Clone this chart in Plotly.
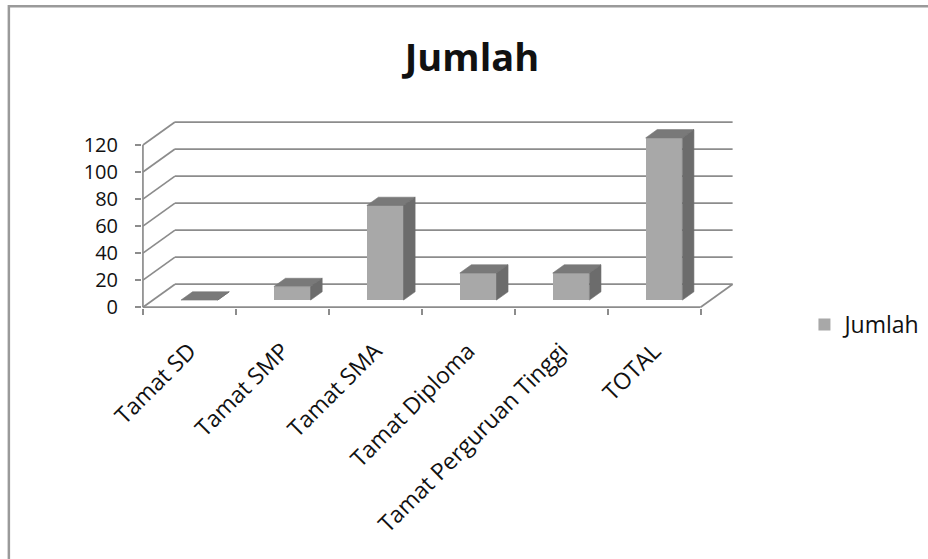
import plotly.graph_objects as go

# Data
categories = ["Tamat SD", "Tamat SMP", "Tamat SMA", "Tamat Diploma",
              "Tamat Perguruan Tinggi", "TOTAL"]
values = [0, 10, 70, 20, 20, 120]
y_ticks = [0, 20, 40, 60, 80, 100, 120]
series_name = "Jumlah"

# Pseudo-3D geometry (in axis units)
DEPTH_X = 0.345   # full floor depth along x (category units)
DEPTH_Y = 17.0    # full floor depth along y (value units)
F_FRONT = 0.31    # depth fraction of bar front faces
F_BACK = 0.67     # depth fraction of bar back faces
BAR_W = 0.395

FRONT = "#a8a8a8"
TOP = "#797979"
SIDE = "#6c6c6c"
GRID = "#8c8c8c"
FONT = "Open Sans"

n = len(categories)
x_left, x_right = -0.5, n - 0.5

fig = go.Figure()

# Bar front faces
base0 = F_FRONT * DEPTH_Y
shift0 = F_FRONT * DEPTH_X
fig.add_trace(go.Bar(
    x=[i + shift0 for i in range(n)],
    y=values,
    base=base0,
    width=BAR_W,
    marker=dict(color=FRONT, line=dict(width=0)),
    name=series_name,
    showlegend=True,
    hoverinfo="skip",
))

# Top and side faces, built from the same values
ddx = (F_BACK - F_FRONT) * DEPTH_X
ddy = (F_BACK - F_FRONT) * DEPTH_Y
for i, v in enumerate(values):
    xl = i + shift0 - BAR_W / 2
    xr = xl + BAR_W
    top = base0 + v
    fig.add_trace(go.Scatter(
        x=[xl, xr, xr + ddx, xl + ddx, xl],
        y=[top, top, top + ddy, top + ddy, top],
        mode="lines", fill="toself", fillcolor=TOP,
        line=dict(width=0.6, color=TOP),
        showlegend=False, hoverinfo="skip",
    ))
    fig.add_trace(go.Scatter(
        x=[xr, xr, xr + ddx, xr + ddx, xr],
        y=[base0, top, top + ddy, base0 + ddy, base0],
        mode="lines", fill="toself", fillcolor=SIDE,
        line=dict(width=0.6, color=SIDE),
        showlegend=False, hoverinfo="skip",
    ))

# Walls, floor and gridlines
shapes = []
line = dict(color=GRID, width=1.7)
for t in y_ticks:
    # back wall gridline
    shapes.append(dict(type="line", xref="x", yref="y", layer="below",
                       x0=x_left + DEPTH_X, x1=x_right + DEPTH_X,
                       y0=t + DEPTH_Y, y1=t + DEPTH_Y, line=line))
    # side wall gridline
    shapes.append(dict(type="line", xref="x", yref="y", layer="below",
                       x0=x_left, x1=x_left + DEPTH_X,
                       y0=t, y1=t + DEPTH_Y, line=line))
# floor right edge and front edge
shapes.append(dict(type="line", xref="x", yref="y", layer="below",
                   x0=x_right, x1=x_right + DEPTH_X, y0=0, y1=DEPTH_Y, line=line))
shapes.append(dict(type="line", xref="x", yref="y", layer="below",
                   x0=x_left, x1=x_right, y0=0, y1=0, line=line))
# front value axis
shapes.append(dict(type="line", xref="x", yref="y", layer="below",
                   x0=x_left, x1=x_left, y0=0, y1=y_ticks[-1], line=line))
# chart border
shapes.append(dict(type="rect", xref="paper", yref="paper",
                   x0=-0.2249, x1=1.4, y0=-1.4, y1=1.6045,
                   line=dict(color="#9a9a9a", width=2.5), fillcolor="rgba(0,0,0,0)"))

fig.update_layout(
    width=928, height=559,
    margin=dict(l=142, r=194, t=120, b=251, pad=0, autoexpand=False),
    paper_bgcolor="white", plot_bgcolor="white",
    font=dict(family=FONT, size=23, color="#111111"),
    title=dict(text="<b>Jumlah</b>", x=0.5086, xanchor="center",
               y=0.896, yanchor="middle",
               font=dict(family=FONT, size=38, color="#111111")),
    shapes=shapes,
    bargap=0,
    legend=dict(x=1.119, xanchor="left", y=-0.0875, yanchor="middle",
                font=dict(family=FONT, size=23, color="#111111"),
                bgcolor="rgba(0,0,0,0)"),
    xaxis=dict(range=[-0.51, 5.86], showgrid=False, zeroline=False, showline=False,
               tickmode="array", tickvals=list(range(n)), ticktext=categories,
               tickangle=-45, ticks="", ticklabelstandoff=24,
               tickfont=dict(family=FONT, size=23, color="#111111"),
               minor=dict(tickmode="array",
                          tickvals=[i - 0.5 for i in range(n + 1)],
                          ticks="outside", ticklen=6, tickwidth=1.7,
                          tickcolor=GRID, showgrid=False),
               fixedrange=True),
    yaxis=dict(range=[-0.6, 138.5], showgrid=False, zeroline=False, showline=False,
               tickmode="array", tickvals=y_ticks, ticks="outside", ticklen=6,
               tickwidth=1.7, tickcolor=GRID, ticklabelstandoff=13,
               tickfont=dict(family=FONT, size=20, color="#111111"),
               fixedrange=True),
)

fig.write_html("out.html")
